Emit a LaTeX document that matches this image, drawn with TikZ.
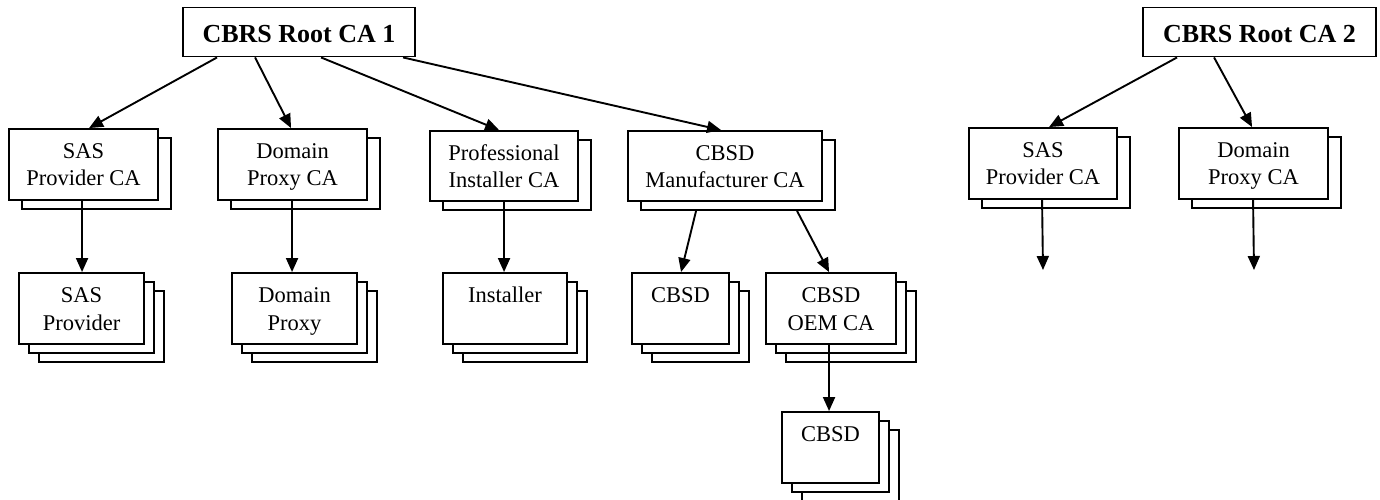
\documentclass[tikz,border=0pt]{standalone}
\usepackage{fontspec}
\setmainfont{Liberation Serif}
\usetikzlibrary{arrows.meta,calc}
\tikzset{
  bx/.style={draw, line width=1.9pt, fill=white, inner sep=0pt, rectangle},
  arr/.style={line width=1.9pt, -{Triangle[length=14pt,width=12pt]}},
  lbl/.style={anchor=base, inner sep=0pt, font=\fontsize{22.5}{27}\selectfont},
  rootbox/.style={bx, font=\fontsize{26}{30}\selectfont\bfseries, text height=22pt, text depth=0pt}
}
% #1 name, #2 x1, #3 y1, #4 x2, #5 y2
\newcommand\frontbox[5]{%
  \node[bx, minimum width={(#4-#2)*1pt}, minimum height={(#5-#3)*1pt}] (#1) at ({(#2+#4)/2},{(#3+#5)/2}) {};}
\newcommand\backbox[7]{% name, x1,y1,x2,y2, dx, dy
  \node[bx, minimum width={(#4-#2)*1pt}, minimum height={(#5-#3)*1pt}] (#1) at ({(#2+#4)/2+#6},{(#3+#5)/2+#7}) {};}
\newcommand\caone[5]{%
  \backbox{#1-s1}{#2}{#3}{#4}{#5}{13}{9}%
  \frontbox{#1}{#2}{#3}{#4}{#5}}
\newcommand\catwo[5]{%
  \backbox{#1-s2}{#2}{#3}{#4}{#5}{20}{18}%
  \backbox{#1-s1}{#2}{#3}{#4}{#5}{10}{9}%
  \frontbox{#1}{#2}{#3}{#4}{#5}}
\begin{document}
\begin{tikzpicture}[x=1pt,y=-1pt]
\useasboundingbox (0,0) rectangle (1380,500);

% roots
\node[rootbox, minimum width=232pt, minimum height=49pt] (r1) at (299,32) {CBRS Root CA 1};
\node[rootbox, minimum width=233pt, minimum height=49pt] (r2) at (1259.5,32) {CBRS Root CA 2};

% CA level
\caone{sasca}{9}{129}{158}{200}
\caone{dpca}{218}{129}{367}{200}
\caone{pica}{430}{131}{578}{201}
\caone{cbsdm}{628}{131}{822}{201}
\caone{sasca2}{969}{128}{1117}{199}
\caone{dpca2}{1179}{128}{1328}{199}

\node[lbl] (sasca-a) at (83.5,158) {SAS};
\node[lbl] (sasca-b) at (83.5,185) {Provider CA};
\node[lbl] (dpca-a) at (292.5,158) {Domain};
\node[lbl] (dpca-b) at (292.5,185) {Proxy CA};
\node[lbl] (pica-a) at (504,160) {Professional};
\node[lbl] (pica-b) at (504,187) {Installer CA};
\node[lbl] (cbsdm-a) at (725,160) {CBSD};
\node[lbl] (cbsdm-b) at (725,187) {Manufacturer CA};
\node[lbl] (sasca2-a) at (1043,157) {SAS};
\node[lbl] (sasca2-b) at (1043,184) {Provider CA};
\node[lbl] (dpca2-a) at (1253.5,157) {Domain};
\node[lbl] (dpca2-b) at (1253.5,184) {Proxy CA};

% leaf level
\catwo{sas}{19}{273}{144}{344}
\catwo{dp}{232}{273}{357}{344}
\catwo{inst}{443}{273}{567}{344}
\catwo{cbsd1}{632}{273}{729}{344}
\catwo{oem}{766}{273}{896}{344}
\catwo{cbsd2}{782}{412}{879}{483}

\node[lbl] (sas-a) at (81.5,302) {SAS};
\node[lbl] (sas-b) at (81.5,330) {Provider};
\node[lbl] (dp-a) at (294.5,302) {Domain};
\node[lbl] (dp-b) at (294.5,330) {Proxy};
\node[lbl] (inst-a) at (505,302) {Installer};
\node[lbl] (cbsd1-a) at (680.5,302) {CBSD};
\node[lbl] (oem-a) at (831,302) {CBSD};
\node[lbl] (oem-b) at (831,330) {OEM CA};
\node[lbl] (cbsd2-a) at (830.5,441) {CBSD};

% dangling ends
\coordinate (e1) at (1043,270);
\coordinate (e2) at (1254,270);

% connectors
\draw[arr] ([xshift=35pt]r1.south west) -- ([xshift=81pt]sasca.north west);
\draw[arr] ([xshift=73pt]r1.south west) -- ([xshift=74pt]dpca.north west);
\draw[arr] ([xshift=139pt]r1.south west) -- ([xshift=70pt]pica.north west);
\draw[arr] ([xshift=221pt]r1.south west) -- ([xshift=94pt]cbsdm.north west);
\draw[arr] ([xshift=74pt]sasca.south west) -- ([xshift=64pt]sas.north west);
\draw[arr] ([xshift=75pt]dpca.south west) -- ([xshift=61pt]dp.north west);
\draw[arr] ([xshift=75pt]pica.south west) -- ([xshift=62pt]inst.north west);
\draw[arr] ([xshift=56pt]cbsdm-s1.south west) -- ([xshift=50pt]cbsd1.north west);
\draw[arr] ([xshift=157pt]cbsdm-s1.south west) -- ([xshift=64pt]oem.north west);
\draw[arr] ([xshift=64pt]oem.south west) -- ([xshift=48pt]cbsd2.north west);
\draw[arr] ([xshift=35pt]r2.south west) -- ([xshift=81pt]sasca2.north west);
\draw[arr] ([xshift=72pt]r2.south west) -- ([xshift=74pt]dpca2.north west);
\draw[arr] ([xshift=74pt]sasca2.south west) -- (e1);
\draw[arr] ([xshift=75pt]dpca2.south west) -- (e2);
\end{tikzpicture}
\end{document}
